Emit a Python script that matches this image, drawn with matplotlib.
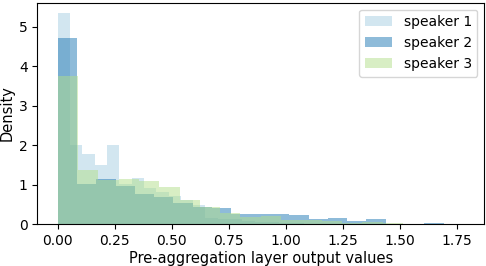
import numpy as np
import matplotlib
matplotlib.use("Agg")
import matplotlib.pyplot as plt

labels = ["speaker 1", "speaker 2", "speaker 3"]
colors = ["#a6cee3", "#1f78b4", "#b2df8a"]

# bin ranges (0 .. max) with 20 bins each
s1_max, s2_max, s3_max = 1.08, 1.692, 1.781
n_bins = 20

s1_density = [5.34, 2.00, 1.78, 1.50, 2.00, 1.02, 1.16, 0.92, 0.82, 0.72,
              0.62, 0.49, 0.15, 0.12, 0.12, 0.07, 0.06, 0.05, 0.04, 0.03]
s2_density = [4.71, 1.02, 1.15, 0.97, 0.77, 0.70, 0.55, 0.445, 0.405, 0.26,
              0.26, 0.26, 0.235, 0.135, 0.16, 0.08, 0.135, 0.0, 0.0, 0.03]
s3_density = [3.75, 1.37, 1.13, 1.15, 1.10, 0.95, 0.61, 0.44, 0.29, 0.18,
              0.21, 0.11, 0.11, 0.07, 0.03, 0.05, 0.03, 0.0, 0.0, 0.0]

maxes = [s1_max, s2_max, s3_max]
densities = [s1_density, s2_density, s3_density]

fig = plt.figure(figsize=(4.86, 2.66), dpi=100)
ax = fig.add_axes([0.0768, 0.157, 0.9197, 0.833])

for lab, col, m, dens in zip(labels, colors, maxes, densities):
    edges = np.linspace(0, m, n_bins + 1)
    centers = (edges[:-1] + edges[1:]) / 2
    ax.hist(centers, bins=edges, weights=dens, color=col, alpha=0.5, label=lab)

ax.set_xlim(-0.05 * s3_max, 1.05 * s3_max)
ax.set_xticks([0.0, 0.25, 0.5, 0.75, 1.0, 1.25, 1.5, 1.75])
ax.set_xticklabels(["0.00", "0.25", "0.50", "0.75", "1.00", "1.25", "1.50", "1.75"])
ax.set_xlabel("Pre-aggregation layer output values", fontsize=10.5, labelpad=2)
ax.set_ylabel("Density", fontsize=10.5, labelpad=3)
ax.legend(loc="upper right")

fig.savefig("out.png", dpi=100)
